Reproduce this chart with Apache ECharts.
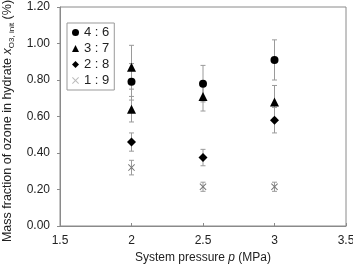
<!DOCTYPE html>
<html>
<head>
<meta charset="utf-8">
<script src="https://cdn.jsdelivr.net/npm/echarts@6/dist/echarts.min.js"></script>
<style>
  html, body { margin: 0; padding: 0; background: #fff; }
  #chart { width: 353px; height: 264px; }
</style>
</head>
<body>
<div id="chart"></div>
<script>
// ratio series: pressure (MPa), mass fraction (%), error (+/-)
var p46 = [2, 2.5, 3];
var y46 = [0.79, 0.78, 0.91];
var e46 = [0.10, 0.10, 0.11];

var p37 = [2, 2, 2.5, 3];
var y37 = [0.87, 0.64, 0.71, 0.68];
var e37 = [0.12, 0.07, 0.08, 0.09];

var p28 = [2, 2.5, 3];
var y28 = [0.46, 0.375, 0.58];
var e28 = [0.05, 0.045, 0.07];

var p19 = [2, 2.5, 3];
var y19 = [0.32, 0.215, 0.215];
var e19 = [0.04, 0.025, 0.025];

var names = ['4 : 6', '3 : 7', '2 : 8', '1 : 9'];

var crossPath = 'path://M0,1L1,0L5,4L9,0L10,1L6,5L10,9L9,10L5,6L1,10L0,9L4,5Z';

function pts(px, py) {
  return px.map(function (x, i) { return [x, py[i]]; });
}
function errPts(px, py, pe) {
  return px.map(function (x, i) { return [x, py[i], pe[i]]; });
}

function errSeries(data) {
  return {
    type: 'custom',
    silent: true,
    z: 1,
    data: data,
    renderItem: function (params, api) {
      var x = api.value(0), y = api.value(1), e = api.value(2);
      var top = api.coord([x, y + e]);
      var bot = api.coord([x, y - e]);
      var c = '#9a9a9a';
      var s = { stroke: c, lineWidth: 1 };
      return {
        type: 'group',
        children: [
          { type: 'line', shape: { x1: top[0], y1: top[1], x2: bot[0], y2: bot[1] }, style: s },
          { type: 'line', shape: { x1: top[0] - 2.5, y1: top[1], x2: top[0] + 2.5, y2: top[1] }, style: s },
          { type: 'line', shape: { x1: bot[0] - 2.5, y1: bot[1], x2: bot[0] + 2.5, y2: bot[1] }, style: s }
        ]
      };
    }
  };
}

var option = {
  animation: false,
  grid: {
    left: 60, right: 7, top: 7, bottom: 38,
    containLabel: false,
    outerBoundsMode: 'none',
    show: true, borderColor: '#8a8a8a', borderWidth: 1
  },
  legend: {
    orient: 'vertical',
    left: 67, top: 23,
    padding: [3, 5, 3, 5],
    itemGap: 3,
    itemWidth: 7, itemHeight: 7,
    borderColor: '#999', borderWidth: 1,
    textStyle: { fontFamily: 'Liberation Sans', fontSize: 13, color: '#222', lineHeight: 13 },
    data: [
      { name: names[0] },
      { name: names[1] },
      { name: names[2] },
      { name: names[3], itemStyle: { color: '#bbb' } }
    ]
  },
  xAxis: {
    type: 'value',
    min: 1.5, max: 3.5, interval: 0.5,
    name: '{a|System pressure }{i|p}{a| (MPa)}',
    nameLocation: 'middle',
    nameGap: 24,
    nameTextStyle: {
      rich: {
        a: { fontFamily: 'Liberation Sans', fontSize: 12, color: '#222' },
        i: { fontFamily: 'Liberation Sans', fontSize: 12, fontStyle: 'italic', color: '#222' }
      }
    },
    axisLine: { lineStyle: { color: '#8a8a8a' } },
    axisTick: { inside: true, length: 3, lineStyle: { color: '#8a8a8a' } },
    axisLabel: { fontFamily: 'Liberation Sans', fontSize: 12, color: '#222', margin: 9,
      formatter: function (v) { return String(v); } },
    splitLine: { show: false }
  },
  yAxis: {
    type: 'value',
    min: 0, max: 1.2, interval: 0.2,
    name: '{a|Mass fraction of ozone in hydrate }{i|x}{s|O3, init}{a| (%)}',
    nameLocation: 'middle',
    nameGap: 40,
    nameTextStyle: {
      padding: [0, 9, 0, 0],
      rich: {
        a: { fontFamily: 'Liberation Sans', fontSize: 12.5, color: '#222', lineHeight: 16, verticalAlign: 'middle' },
        i: { fontFamily: 'Liberation Sans', fontSize: 12.5, fontStyle: 'italic', color: '#222', lineHeight: 16, verticalAlign: 'middle' },
        s: { fontFamily: 'Liberation Sans', fontSize: 8, color: '#222', lineHeight: 16, verticalAlign: 'bottom' }
      }
    },
    axisLine: { show: true, lineStyle: { color: '#8a8a8a' } },
    axisTick: { show: true, length: 3, lineStyle: { color: '#8a8a8a' } },
    axisLabel: { fontFamily: 'Liberation Sans', fontSize: 12, color: '#222', margin: 10,
      formatter: function (v) { return v.toFixed(2); } },
    splitLine: { show: false }
  },
  series: [
    errSeries(errPts(p46, y46, e46)),
    errSeries(errPts(p37, y37, e37)),
    errSeries(errPts(p28, y28, e28)),
    errSeries(errPts(p19, y19, e19)),
    {
      name: names[0], type: 'scatter', z: 3,
      symbol: 'circle', symbolSize: 8,
      itemStyle: { color: '#000', opacity: 1 },
      data: pts(p46, y46)
    },
    {
      name: names[1], type: 'scatter', z: 3,
      symbol: 'triangle', symbolSize: 9,
      itemStyle: { color: '#000', opacity: 1 },
      data: pts(p37, y37)
    },
    {
      name: names[2], type: 'scatter', z: 3,
      symbol: 'diamond', symbolSize: 9,
      itemStyle: { color: '#000', opacity: 1 },
      data: pts(p28, y28)
    },
    {
      name: names[3], type: 'scatter', z: 3,
      symbol: crossPath, symbolSize: 7,
      itemStyle: { color: '#777', opacity: 1 },
      data: pts(p19, y19)
    }
  ]
};

echarts.init(document.getElementById('chart')).setOption(option);
</script>
</body>
</html>
